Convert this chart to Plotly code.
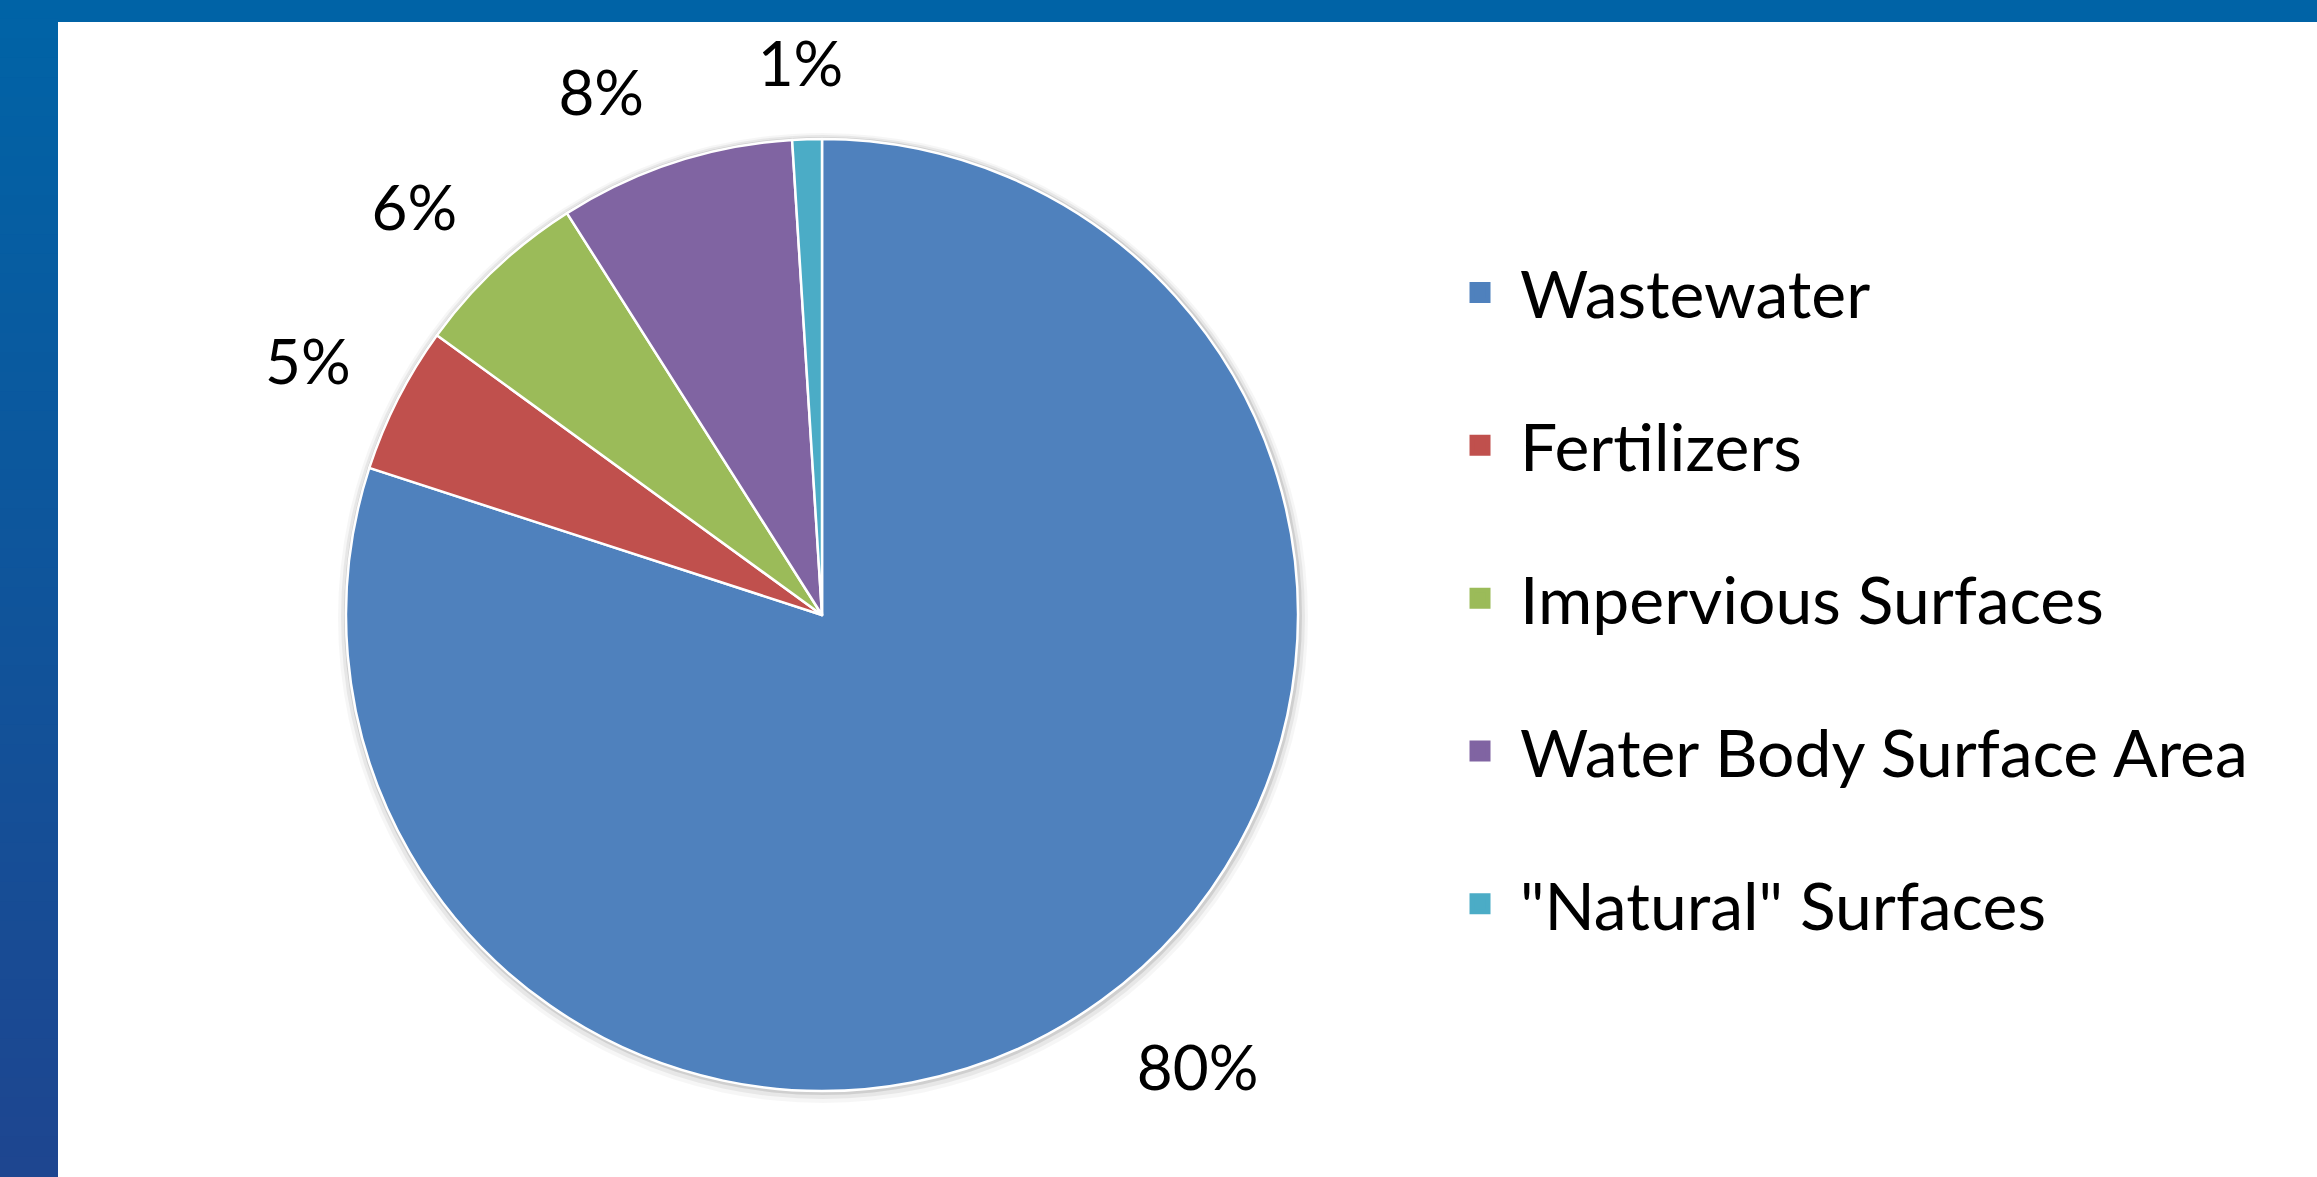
import plotly.graph_objects as go

categories = ["Wastewater", "Fertilizers", "Impervious Surfaces", "Water Body Surface Area", "\"Natural\" Surfaces"]
values = [80, 5, 6, 8, 1]
colors = ["#4F81BD", "#C0504D", "#9BBB59", "#8064A2", "#4BACC6"]

W, H = 2317, 1177
FONT = "Lato"

# pie geometry (pixels)
CX, CY, R = 822, 615, 476
LABEL_R = R + 40


def dom(cx, cy, r):
    return dict(x=[(cx - r) / W, (cx + r) / W], y=[1 - (cy + r) / H, 1 - (cy - r) / H])


fig = go.Figure()
n_cat = len(values)

# soft drop shadow behind the pie
for extra, dy, alpha in ((9, 3, 0.035), (6, 2, 0.06), (3, 1, 0.10)):
    fig.add_trace(go.Pie(
        labels=categories, values=values, sort=False, direction="clockwise", rotation=0,
        marker=dict(colors=["rgba(0,0,0,%g)" % alpha] * n_cat, line=dict(width=0)),
        textinfo="none", domain=dom(CX + 1, CY + dy, R + extra),
        showlegend=False, hoverinfo="skip",
    ))

# transparent carrier pies used only to place the percentage labels further out,
# one group of slices per carrier (label nudges in pixels)
label_groups = [([0], -7, 9), ([1, 2], 7, -13), ([3], 0, 0), ([4], 56, 0)]
for idxs, dx, dy in label_groups:
    pos = ["outside" if i in idxs else "none" for i in range(n_cat)]
    fig.add_trace(go.Pie(
        labels=categories, values=values, sort=False, direction="clockwise", rotation=0,
        marker=dict(colors=["rgba(0,0,0,0)"] * n_cat, line=dict(width=0)),
        textinfo="percent", textposition=pos,
        textfont=dict(family=FONT, size=62, color="black"),
        domain=dom(CX + dx, CY + dy, LABEL_R), showlegend=False, hoverinfo="skip",
    ))

fig.add_trace(go.Pie(
    labels=categories, values=values, sort=False, direction="clockwise", rotation=0,
    marker=dict(colors=colors, line=dict(color="white", width=2.5)),
    textinfo="none",
    domain=dom(CX, CY, R),
    showlegend=False, hoverinfo="label+percent",
))

# legend entries (one per slice)
for name, col in zip(categories, colors):
    fig.add_trace(go.Scatter(
        x=[None], y=[None], mode="markers", name=name, legendgroup=name,
        marker=dict(symbol="square", size=16, color=col, line=dict(color=col, width=5)),
    ))

shapes = []
shapes.append(dict(type="rect", xref="paper", yref="paper", x0=0, x1=1, y0=1 - 22 / H, y1=1,
                   fillcolor="#0063A6", line=dict(width=0), layer="above"))
n = 60
c0 = (0, 99, 166)
c1 = (30, 70, 144)
for i in range(n):
    t = i / (n - 1)
    c = tuple(round(c0[k] + (c1[k] - c0[k]) * t) for k in range(3))
    shapes.append(dict(type="rect", xref="paper", yref="paper", x0=0, x1=58 / W,
                       y0=1 - (i + 1) / n, y1=min(1, 1 - i / n + 0.001),
                       fillcolor="rgb(%d,%d,%d)" % c, line=dict(width=0), layer="above"))

fig.update_layout(
    width=W, height=H,
    margin=dict(l=0, r=0, t=0, b=0, autoexpand=False),
    paper_bgcolor="white", plot_bgcolor="rgba(0,0,0,0)",
    shapes=shapes,
    xaxis=dict(visible=False), yaxis=dict(visible=False),
    legend=dict(x=0.6215, y=0.7934, xanchor="left", yanchor="top",
                font=dict(family=FONT, size=66, color="black"),
                itemwidth=70,
                tracegroupgap=64, bgcolor="rgba(0,0,0,0)"),
    font=dict(family=FONT),
)

fig.write_html("out.html", config={"displayModeBar": False},
               post_script="document.body.style.margin='0';document.body.style.overflow='hidden';")
